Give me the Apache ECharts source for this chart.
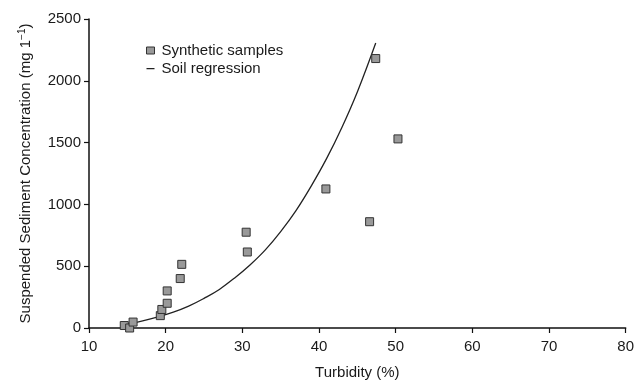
<!DOCTYPE html>
<html>
<head>
<meta charset="utf-8">
<script src="https://cdn.jsdelivr.net/npm/echarts@6/dist/echarts.min.js"></script>
<style>
html,body{margin:0;padding:0;background:#fff;}
#chart{width:637px;height:385px;}
</style>
</head>
<body>
<div id="chart"></div>
<script>
// Synthetic samples
var sampleTurbidity = [14.6, 15.3, 15.75, 19.3, 19.5, 20.2, 20.2, 21.9, 22.1, 30.5, 30.65, 40.9, 46.6, 47.4, 50.3];
var sampleSSC       = [20,   0,    48,    100,  150,  200,  300,  400,  515,  775,  615,   1125, 860,  2180, 1530];

// Soil regression curve
var curveTurbidity = [14.6, 15, 17, 19, 21,  23,  25,  27,  29,  31,  33,  35,  37,  39,   41,   43,   45,   47.4];
var curveSSC       = [28,   32, 58, 90, 128, 177, 240, 312, 405, 510, 632, 780, 950, 1150, 1372, 1625, 1910, 2306];

var xTicks = [10, 20, 30, 40, 50, 60, 70, 80];
var yTicks = [0, 500, 1000, 1500, 2000, 2500];

var samples = sampleTurbidity.map(function (t, i) { return [t, sampleSSC[i]]; });
var curve = curveTurbidity.map(function (t, i) { return [t, curveSSC[i]]; });

var font = 'Liberation Sans, Arial, Helvetica, sans-serif';
var chart = echarts.init(document.getElementById('chart'), null, {renderer: 'canvas'});
chart.setOption({
  animation: false,
  backgroundColor: '#fff',
  textStyle: {fontFamily: font},
  grid: {left: 89, right: 8, top: 19, bottom: 53, containLabel: false},
  legend: {
    orient: 'vertical',
    left: 141,
    top: 38,
    itemGap: 3,
    itemWidth: 8,
    itemHeight: 7,
    textStyle: {fontFamily: font, fontSize: 15, color: '#1a1a1a', padding: [0, 0, 0, 2]},
    data: [
      {name: 'Synthetic samples', icon: 'rect', itemStyle: {color: '#999', borderColor: '#333', borderWidth: 1}},
      {name: 'Soil regression', icon: 'path://M0,3 L8,3 L8,4.3 L0,4.3 Z M0,0 L0.01,0 L0.01,7 L0,7 Z', itemStyle: {color: '#222'}}
    ]
  },
  xAxis: {
    type: 'value',
    min: xTicks[0],
    max: xTicks[xTicks.length - 1],
    interval: 10,
    name: 'Turbidity (%)',
    nameLocation: 'middle',
    nameGap: 37,
    nameTextStyle: {fontFamily: font, fontSize: 15, color: '#1a1a1a'},
    axisLine: {show: true, lineStyle: {color: '#111', width: 1.5}},
    axisTick: {show: true, length: 5, inside: false, lineStyle: {color: '#111', width: 1.2}},
    axisLabel: {fontFamily: font, fontSize: 15, color: '#1a1a1a', margin: 11},
    splitLine: {show: false}
  },
  yAxis: {
    type: 'value',
    min: yTicks[0],
    max: yTicks[yTicks.length - 1],
    interval: 500,
    name: '{n|Suspended Sediment Concentration (mg 1}{s|−1}{n|)}',
    nameLocation: 'middle',
    nameGap: 54,
    nameTextStyle: {
      fontFamily: font, fontSize: 15, color: '#1a1a1a',
      rich: {
        n: {fontFamily: font, fontSize: 15, color: '#1a1a1a'},
        s: {fontFamily: font, fontSize: 10, color: '#1a1a1a', padding: [0, 0, 8, 0]}
      }
    },
    axisLine: {show: true, lineStyle: {color: '#111', width: 1.5}},
    axisTick: {show: true, length: 5, inside: false, lineStyle: {color: '#111', width: 1.2}},
    axisLabel: {fontFamily: font, fontSize: 15, color: '#1a1a1a', margin: 8, formatter: function (v) { return String(v); }},
    splitLine: {show: false}
  },
  series: [
    {
      name: 'Soil regression',
      type: 'line',
      data: curve,
      smooth: 0.4,
      symbol: 'none',
      lineStyle: {color: '#222', width: 1.3},
      itemStyle: {color: '#222'},
      z: 2
    },
    {
      name: 'Synthetic samples',
      type: 'scatter',
      data: samples,
      symbol: 'rect',
      symbolSize: 8,
      clip: false,
      itemStyle: {color: '#999', borderColor: '#333', borderWidth: 1, opacity: 1},
      z: 3
    }
  ]
});
</script>
</body>
</html>
